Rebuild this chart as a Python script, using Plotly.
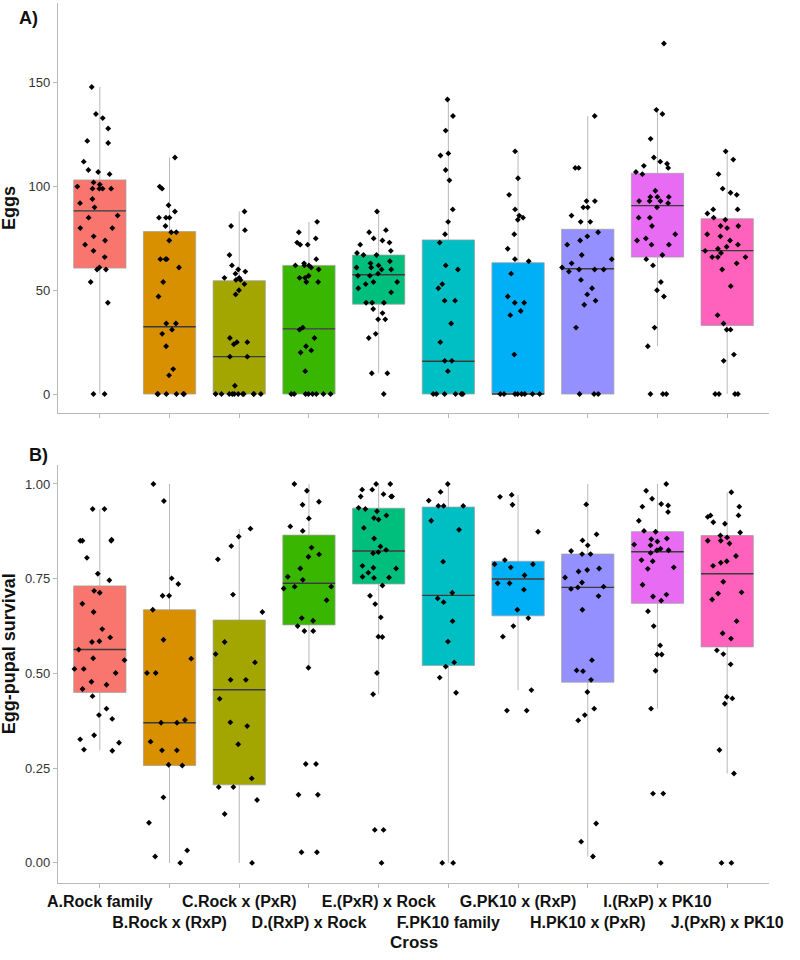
import plotly.graph_objects as go

groups = ["A.Rock family", "B.Rock x (RxP)", "C.Rock x (PxR)", "D.(RxP) x Rock",
          "E.(PxR) x Rock", "F.PK10 family", "G.PK10 x (RxP)", "H.PK10 x (PxR)",
          "I.(RxP) x PK10", "J.(PxR) x PK10"]
colors = ["#F8766D", "#D89000", "#A3A500", "#39B600", "#00BF7D",
          "#00BFC4", "#00B0F6", "#9590FF", "#E76BF3", "#FF62BC"]

# ---- Panel A: eggs per female ----
eggs_a = [148, 135, 133, 128, 122, 121, 112, 108, 107, 106, 102, 101, 100, 99, 99, 99, 99, 94,
          92, 90, 86, 85, 80, 80, 76, 74, 72, 69, 66, 61, 60, 60, 54, 44, 0, 0]
eggs_b = [114, 100, 99, 91, 88, 85, 85, 85, 81, 78, 78, 74, 65, 65, 65, 61, 54, 47, 34, 34,
          31, 29, 23, 12, 9, 0, 0, 0, 0, 0, 0]
eggs_c = [88, 81, 79, 67, 62, 60, 59, 58, 56, 56, 55, 55, 53, 50, 48, 27, 25, 25, 24, 18, 18,
          4, 0, 0, 0, 0, 0, 0, 0, 0, 0, 0, 0]
eggs_d = [83, 78, 75, 73, 72, 72, 65, 63, 62, 62, 62, 61, 60, 57, 56, 56, 54, 54, 32, 31, 27,
          23, 21, 20, 11, 0, 0, 0, 0, 0, 0, 0, 0]
eggs_e = [88, 79, 78, 75, 74, 73, 72, 69, 68, 67, 67, 64, 63, 62, 61, 61, 60, 60, 58, 57, 57,
          54, 54, 53, 51, 49, 44, 44, 44, 41, 39, 36, 36, 29, 27, 10, 10, 0]
eggs_f = [142, 134, 127, 116, 115, 108, 103, 89, 83, 77, 73, 62, 60, 53, 51, 45, 45, 34, 25,
          16, 16, 11, 0, 0, 0, 0, 0, 0]
eggs_g = [117, 104, 96, 89, 86, 85, 84, 77, 70, 65, 64, 58, 47, 44, 44, 40, 38, 19,
          0, 0, 0, 0, 0, 0, 0, 0]
eggs_h = [134, 109, 109, 93, 93, 90, 90, 86, 83, 83, 78, 76, 74, 72, 67, 65, 63, 61, 60, 60,
          60, 59, 55, 51, 48, 45, 43, 32, 0, 0, 0]
eggs_i = [169, 137, 135, 123, 114, 112, 111, 110, 109, 107, 106, 98, 95, 95, 95, 93, 93, 93,
          92, 90, 85, 85, 81, 77, 75, 74, 72, 72, 67, 65, 62, 54, 50, 47, 32, 23, 0, 0, 0]
eggs_j = [117, 113, 106, 99, 97, 96, 89, 89, 87, 85, 84, 81, 81, 80, 77, 76, 74, 72, 71, 70,
          69, 68, 66, 66, 66, 63, 60, 52, 38, 34, 31, 31, 19, 16, 0, 0, 0, 0]

eggs_q1 = [60.7, 0, 0, 0, 43.3, 0, 0, 0, 66, 33]
eggs_med = [88.3, 32.4, 18.0, 31.4, 57.5, 15.8, 0, 60.4, 90.8, 69.1]
eggs_q3 = [103.2, 78.3, 54.6, 62, 67, 74.3, 63.3, 79.4, 106.4, 84.5]
eggs_lo = [0, 0, 0, 0, 10, 0, 0, 0, 23, 0]
eggs_hi = [148, 114, 88, 83, 87.6, 142.4, 117, 134, 136.7, 116.7]

# ---- Panel B: egg-pupal survival ----
surv_a = [0.934, 0.934, 0.853, 0.850, 0.850, 0.850, 0.805, 0.763, 0.746, 0.718, 0.713, 0.684,
          0.662, 0.617, 0.595, 0.585, 0.583, 0.563, 0.540, 0.535, 0.512, 0.512, 0.501, 0.478,
          0.470, 0.459, 0.440, 0.407, 0.390, 0.380, 0.337, 0.326, 0.317, 0.299, 0.296]
surv_b = [1.0, 0.955, 0.751, 0.736, 0.705, 0.705, 0.668, 0.589, 0.539, 0.501, 0.501, 0.377,
          0.370, 0.370, 0.320, 0.297, 0.297, 0.259, 0.257, 0.173, 0.106, 0.033, 0.017, 0.0]
surv_c = [0.882, 0.861, 0.836, 0.801, 0.708, 0.662, 0.583, 0.551, 0.529, 0.483, 0.483, 0.433,
          0.371, 0.361, 0.313, 0.223, 0.200, 0.200, 0.166, 0.129, 0.0]
surv_d = [1.0, 0.982, 0.953, 0.945, 0.909, 0.888, 0.876, 0.832, 0.814, 0.808, 0.777, 0.755,
          0.747, 0.729, 0.729, 0.724, 0.693, 0.646, 0.639, 0.625, 0.612, 0.612, 0.515, 0.261,
          0.261, 0.180, 0.180, 0.028, 0.028]
surv_e = [1.0, 1.0, 0.985, 0.985, 0.973, 0.967, 0.967, 0.967, 0.937, 0.934, 0.928, 0.917,
          0.910, 0.906, 0.884, 0.856, 0.835, 0.826, 0.820, 0.817, 0.784, 0.779, 0.777, 0.766,
          0.755, 0.753, 0.752, 0.732, 0.705, 0.683, 0.648, 0.597, 0.596, 0.501, 0.445, 0.087,
          0.087, 0.0]
surv_f = [1.0, 0.979, 0.956, 0.942, 0.942, 0.942, 0.903, 0.879, 0.795, 0.713, 0.698, 0.688,
          0.638, 0.584, 0.529, 0.518, 0.489, 0.449, 0.0, 0.0]
surv_g = [0.971, 0.966, 0.945, 0.874, 0.799, 0.788, 0.788, 0.780, 0.759, 0.738, 0.738, 0.721,
          0.668, 0.646, 0.625, 0.597, 0.456, 0.402, 0.402]
surv_h = [0.946, 0.867, 0.851, 0.838, 0.823, 0.815, 0.815, 0.777, 0.773, 0.769, 0.753, 0.740,
          0.729, 0.727, 0.723, 0.704, 0.668, 0.535, 0.508, 0.506, 0.483, 0.451, 0.407, 0.390,
          0.376, 0.104, 0.056, 0.017]
surv_i = [1.0, 0.982, 0.961, 0.947, 0.943, 0.940, 0.926, 0.903, 0.876, 0.874, 0.856, 0.854,
          0.848, 0.840, 0.838, 0.829, 0.825, 0.825, 0.818, 0.799, 0.796, 0.780, 0.776, 0.734,
          0.708, 0.703, 0.692, 0.664, 0.625, 0.574, 0.550, 0.550, 0.507, 0.407, 0.183, 0.183, 0.0]
surv_j = [0.978, 0.940, 0.917, 0.917, 0.913, 0.899, 0.895, 0.872, 0.864, 0.859, 0.850, 0.850,
          0.843, 0.810, 0.796, 0.792, 0.784, 0.742, 0.714, 0.711, 0.695, 0.638, 0.606, 0.592,
          0.561, 0.551, 0.524, 0.438, 0.434, 0.420, 0.298, 0.236, 0.0, 0.0]

surv_q1 = [0.450, 0.257, 0.206, 0.628, 0.736, 0.521, 0.652, 0.477, 0.685, 0.570]
surv_med = [0.563, 0.370, 0.457, 0.738, 0.823, 0.706, 0.749, 0.727, 0.821, 0.763]
surv_q3 = [0.731, 0.668, 0.641, 0.865, 0.936, 0.939, 0.796, 0.815, 0.874, 0.864]
surv_lo = [0.297, 0.0, 0.0, 0.516, 0.445, 0.0, 0.456, 0.017, 0.407, 0.236]
surv_hi = [0.934, 1.0, 0.881, 1.0, 1.0, 1.0, 0.971, 1.0, 1.0, 0.978]

eggs_all = [eggs_a, eggs_b, eggs_c, eggs_d, eggs_e, eggs_f, eggs_g, eggs_h, eggs_i, eggs_j]
surv_all = [surv_a, surv_b, surv_c, surv_d, surv_e, surv_f, surv_g, surv_h, surv_i, surv_j]

FONT = "Liberation Sans, Arial, Helvetica, sans-serif"
fig = go.Figure()


def add_panel(values, q1, med, q3, lo, hi, xa, ya):
    for i, g in enumerate(groups):
        fig.add_trace(go.Box(
            x=[g], q1=[q1[i]], median=[med[i]], q3=[q3[i]],
            lowerfence=[lo[i]], upperfence=[hi[i]],
            fillcolor=colors[i], line=dict(color="rgba(160,160,160,0.75)", width=1),
            whiskerwidth=0, width=0.75, boxpoints=False,
            xaxis=xa, yaxis=ya, hoverinfo="skip", showlegend=False))
        fig.add_trace(go.Box(
            x=[g], q1=[med[i]], median=[med[i]], q3=[med[i]],
            lowerfence=[med[i]], upperfence=[med[i]],
            fillcolor="rgba(0,0,0,0)", line=dict(color="#3a3a3a", width=1.4),
            whiskerwidth=0, width=0.75, boxpoints=False,
            xaxis=xa, yaxis=ya, hoverinfo="skip", showlegend=False))
        vals = values[i]
        fig.add_trace(go.Box(
            x=[g] * len(vals), y=vals, boxpoints="all", jitter=1, pointpos=0,
            width=0.8, fillcolor="rgba(0,0,0,0)",
            line=dict(color="rgba(0,0,0,0)", width=0),
            marker=dict(color="black", size=4.5, symbol="diamond"),
            xaxis=xa, yaxis=ya, hoverinfo="skip", showlegend=False))


add_panel(eggs_all, eggs_q1, eggs_med, eggs_q3, eggs_lo, eggs_hi, "x", "y")
add_panel(surv_all, surv_q1, surv_med, surv_q3, surv_lo, surv_hi, "x2", "y2")

axis_style = dict(showline=True, linecolor="#b8b8b8", linewidth=1.2, ticks="outside",
                  tickcolor="#b8b8b8", ticklen=4, tickwidth=1, showgrid=False, zeroline=False,
                  automargin=False)
tick_text = [g if i % 2 == 0 else "<br>" + g for i, g in enumerate(groups)]

ann_font = dict(size=18, color="#111111")
fig.update_layout(
    width=800, height=960,
    margin=dict(l=58, r=31, t=3, b=77, autoexpand=False),
    plot_bgcolor="white", paper_bgcolor="white",
    boxmode="overlay", showlegend=False, hovermode=False,
    font=dict(family=FONT, color="#222222"),
    xaxis=dict(type="category", categoryorder="array", categoryarray=groups,
               range=[-0.6, 9.6], anchor="y", domain=[0, 1], showticklabels=False,
               **axis_style),
    yaxis=dict(domain=[0.534, 1.0], range=[-9.2, 188.5], anchor="x",
               tickvals=[0, 50, 100, 150], tickfont=dict(size=13, color="#333333"),
               **axis_style),
    xaxis2=dict(type="category", categoryorder="array", categoryarray=groups,
                range=[-0.6, 9.6], anchor="y2", domain=[0, 1],
                tickvals=groups, ticktext=tick_text, tickangle=0,
                tickfont=dict(size=16, color="#111111", weight="bold"),
                **axis_style),
    yaxis2=dict(domain=[0, 0.475], range=[-0.053, 1.05], anchor="x2",
                tickvals=[0, 0.25, 0.5, 0.75, 1.0], tickformat=".2f",
                tickfont=dict(size=13, color="#333333"),
                **axis_style),
    annotations=[
        dict(text="<b>Eggs</b>", xref="paper", yref="paper", x=-0.069, y=0.767,
             xanchor="center", yanchor="middle", textangle=-90, showarrow=False, font=ann_font),
        dict(text="<b>Egg-pupal survival</b>", xref="paper", yref="paper", x=-0.069, y=0.261,
             xanchor="center", yanchor="middle", textangle=-90, showarrow=False, font=ann_font),
        dict(text="<b>A)</b>", xref="paper", yref="paper", x=-0.042, y=0.983,
             xanchor="center", yanchor="middle", showarrow=False, font=ann_font),
        dict(text="<b>B)</b>", xref="paper", yref="paper", x=-0.028, y=0.486,
             xanchor="center", yanchor="middle", showarrow=False, font=ann_font),
        dict(text="<b>Cross</b>", xref="paper", yref="paper", x=0.5, y=-0.068,
             xanchor="center", yanchor="middle", showarrow=False,
             font=dict(size=17, color="#111111")),
    ],
)

fig.write_html("out.html", config={"displayModeBar": False, "staticPlot": True},
               post_script="document.body.style.margin='0';")
